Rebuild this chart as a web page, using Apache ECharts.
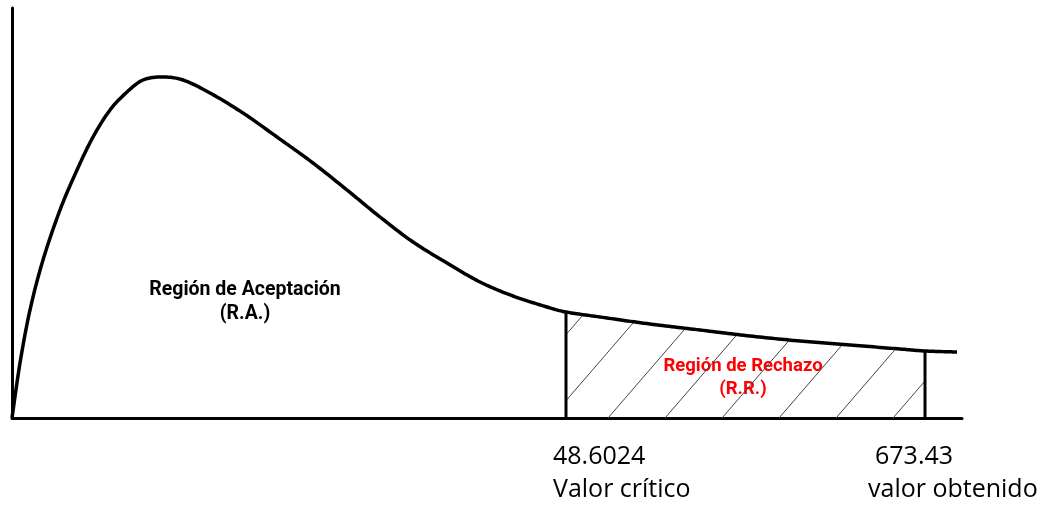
<!DOCTYPE html>
<html><head><meta charset="utf-8">
<script src="https://cdn.jsdelivr.net/npm/echarts@6/dist/echarts.min.js"></script>
<style>html,body{margin:0;padding:0;background:#fff}#c{width:1054px;height:508px}</style>
</head><body><div id="c"></div>
<script>
// Curve of the distribution (x: horizontal scale units, y: density scale units)
const curveX = [0, 8, 18, 31, 48, 65, 81, 98, 115, 131, 150, 171, 198, 231, 265, 301, 335, 368, 401, 435, 468, 501, 535, 554, 588, 638, 688, 738, 788, 838, 888, 913, 945];
const curveY = [0, 55, 108, 158, 208, 248, 281, 308, 326, 338, 341, 338, 325, 305, 281, 255, 228, 201, 176, 155, 136, 122, 111, 106, 101, 94, 88, 82, 77, 73, 69, 67, 66];
const criticalX = 554;
const obtainedX = 913;
const acceptLabel = ['Región de Aceptación', '(R.A.)'];
const rejectLabel = ['Región de Rechazo', '(R.R.)'];
const criticalText = ['48.6024', 'Valor crítico'];
const obtainedText = ['673.43', 'valor obtenido'];

const curve = curveX.map((x, i) => [x, curveY[i]]);
const iCrit = curveX.indexOf(criticalX);
const iObt = curveX.indexOf(obtainedX);

// hatch pattern
const W = 57, H = 66;
const pc = document.createElement('canvas');
pc.width = W; pc.height = H;
const g = pc.getContext('2d');
g.strokeStyle = '#444'; g.lineWidth = 1;
[[-W, H], [0, 0], [W, -H]].forEach(([dx, dy]) => {
  g.beginPath(); g.moveTo(dx, H + dy); g.lineTo(W + dx, dy); g.stroke();
});

// Catmull-Rom smoothing in pixel space; returns sampled points between point indices a..b
function smoothPts(P, a, b) {
  const out = [];
  const N = 16;
  for (let i = a; i < b; i++) {
    const p0 = P[Math.max(i - 1, 0)], p1 = P[i], p2 = P[i + 1], p3 = P[Math.min(i + 2, P.length - 1)];
    const c1 = [p1[0] + (p2[0] - p0[0]) / 6, p1[1] + (p2[1] - p0[1]) / 6];
    const c2 = [p2[0] - (p3[0] - p1[0]) / 6, p2[1] - (p3[1] - p1[1]) / 6];
    for (let k = (i === a ? 0 : 1); k <= N; k++) {
      const t = k / N, u = 1 - t;
      out.push([
        u*u*u*p1[0] + 3*u*u*t*c1[0] + 3*u*t*t*c2[0] + t*t*t*p2[0],
        u*u*u*p1[1] + 3*u*u*t*c1[1] + 3*u*t*t*c2[1] + t*t*t*p2[1]
      ]);
    }
  }
  return out;
}

const chart = echarts.init(document.getElementById('c'));
chart.setOption({
  animation: false,
  backgroundColor: '#fff',
  grid: { left: 12, right: 92, top: 8, bottom: 90 },
  xAxis: { type: 'value', min: 0, max: 950, axisLine: { show: true, lineStyle: { color: '#000', width: 3 } },
    axisTick: { show: false }, axisLabel: { show: false }, splitLine: { show: false } },
  yAxis: { type: 'value', min: 0, max: 410, axisLine: { show: true, lineStyle: { color: '#000', width: 3 } },
    axisTick: { show: false }, axisLabel: { show: false }, splitLine: { show: false } },
  series: [
    {
      type: 'custom', data: [[0, 0]], z: 2,
      renderItem: function (params, api) {
        const P = curve.map(p => api.coord(p));
        const full = smoothPts(P, 0, P.length - 1);
        const top = smoothPts(P, iCrit, iObt);
        const base0 = api.coord([criticalX, 0]);
        const base1 = api.coord([obtainedX, 0]);
        const area = top.concat([base1, base0]);
        return {
          type: 'group',
          children: [
            { type: 'polygon', shape: { points: area }, style: { fill: { image: pc, repeat: 'repeat' }, stroke: null } },
            { type: 'line', shape: { x1: base0[0], y1: base0[1], x2: P[iCrit][0], y2: P[iCrit][1] }, style: { stroke: '#000', lineWidth: 3 } },
            { type: 'line', shape: { x1: base1[0], y1: base1[1], x2: P[iObt][0], y2: P[iObt][1] }, style: { stroke: '#000', lineWidth: 3 } },
            { type: 'polyline', shape: { points: full }, style: { fill: null, stroke: '#000', lineWidth: 3.5, lineJoin: 'round' } }
          ]
        };
      }
    }
  ]
});

const cx = chart.convertToPixel({ xAxisIndex: 0 }, criticalX);
const ox = chart.convertToPixel({ xAxisIndex: 0 }, obtainedX);
const bottomFont = { fontFamily: 'Open Sans', fontSize: 25, fill: '#000' };
const blackFont = { fontFamily: 'Roboto', fontWeight: 'bold', fontSize: 19.5, fill: '#000', align: 'center', verticalAlign: 'middle' };
const redFont = { fontFamily: 'Roboto', fontWeight: 'bold', fontSize: 18.5, fill: '#ff0000', align: 'center', verticalAlign: 'middle' };
chart.setOption({
  graphic: [
    { type: 'text', x: 245, y: 290, style: Object.assign({ text: acceptLabel[0] }, blackFont) },
    { type: 'text', x: 245, y: 314, style: Object.assign({ text: acceptLabel[1] }, blackFont) },
    { type: 'text', x: 743, y: 366, style: Object.assign({ text: rejectLabel[0] }, redFont) },
    { type: 'text', x: 743, y: 389, style: Object.assign({ text: rejectLabel[1] }, redFont) },
    { type: 'text', x: cx - 13, y: 457, style: Object.assign({ text: criticalText[0], align: 'left', verticalAlign: 'middle' }, bottomFont) },
    { type: 'text', x: cx - 13, y: 490, style: Object.assign({ text: criticalText[1], align: 'left', verticalAlign: 'middle' }, bottomFont) },
    { type: 'text', x: ox - 50, y: 457, style: Object.assign({ text: obtainedText[0], align: 'left', verticalAlign: 'middle' }, bottomFont) },
    { type: 'text', x: ox - 57, y: 490, style: Object.assign({ text: obtainedText[1], align: 'left', verticalAlign: 'middle' }, bottomFont) }
  ]
});
</script></body></html>
